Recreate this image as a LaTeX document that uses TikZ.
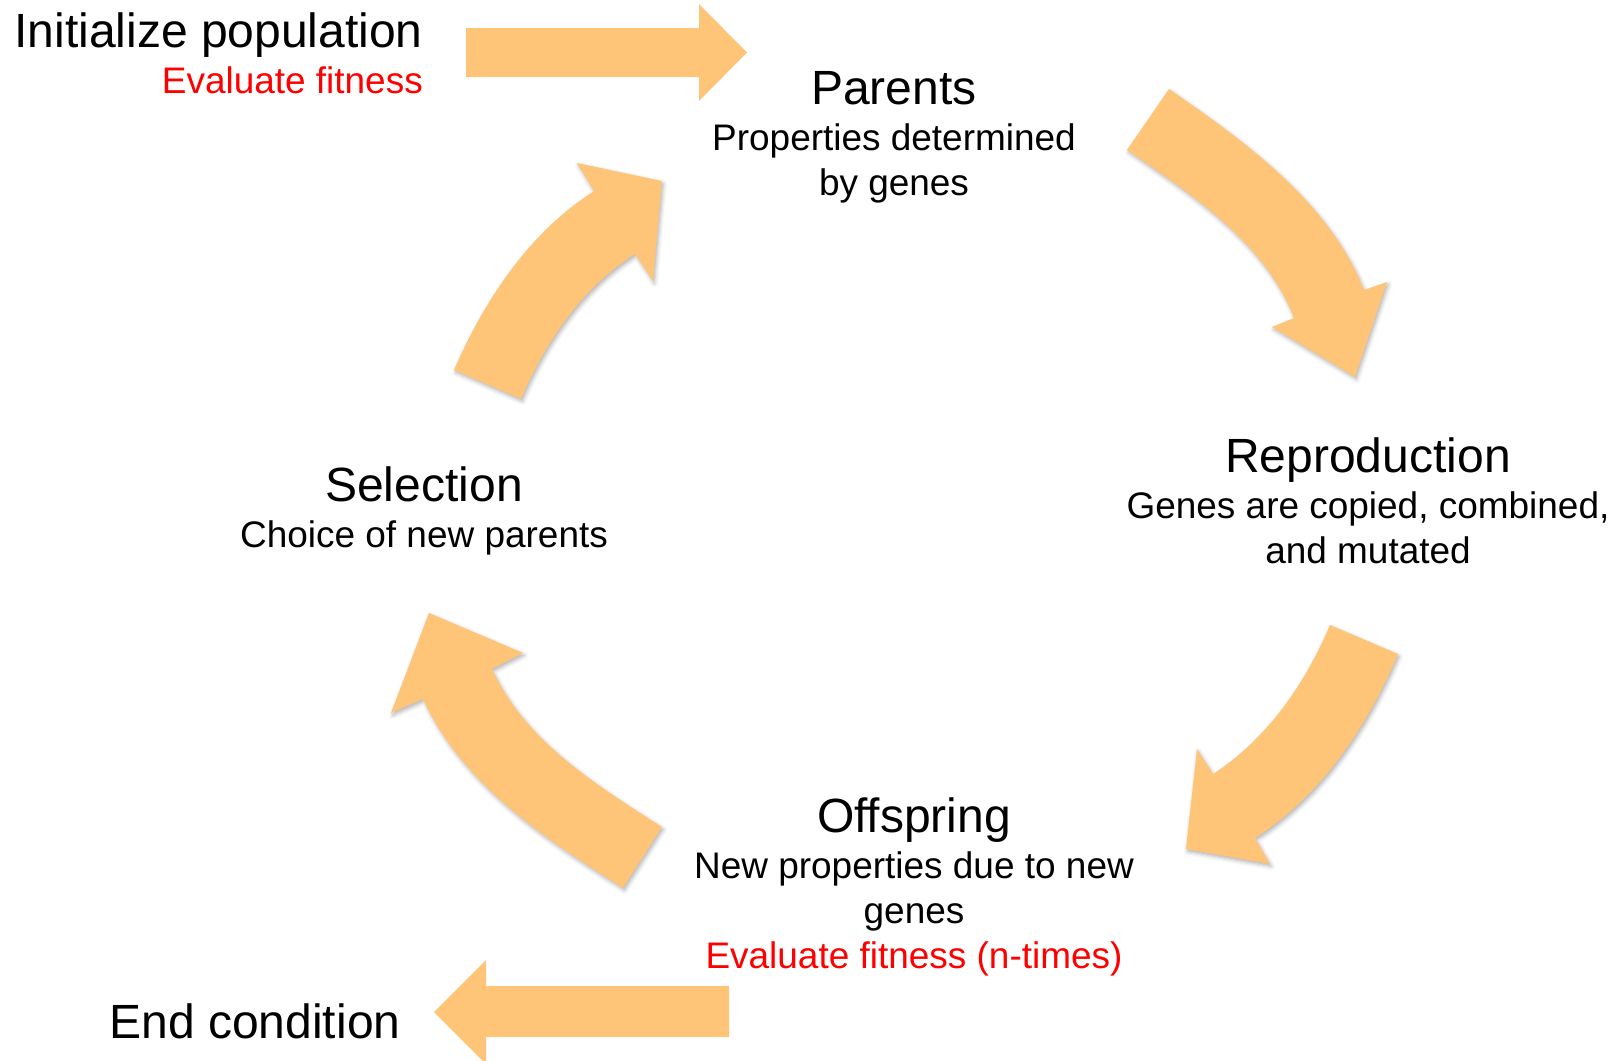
\documentclass[tikz,border=0pt]{standalone}
\usepackage{fontspec}
\setmainfont{Liberation Sans}
\usetikzlibrary{shadows.blur}
\definecolor{arrowfill}{RGB}{254,197,120}
\definecolor{evalred}{RGB}{255,0,0}
\tikzset{
  bigtext/.style={font=\fontsize{48.2}{58}\selectfont, inner sep=0pt, anchor=base},
  smalltext/.style={font=\fontsize{37.1}{45}\selectfont, inner sep=0pt, anchor=base},
  redtext/.style={smalltext, text=evalred},
  flatarrow/.style={fill=arrowfill, draw=none},
  bentarrow/.style={fill=arrowfill, draw=none,
    blur shadow={shadow xshift=1.5bp, shadow yshift=-2.5bp,
                 shadow blur radius=4bp, shadow opacity=30}},
}
\begin{document}
\begin{tikzpicture}[x=1bp,y=-1bp]
\useasboundingbox (0,0) rectangle (1619,1060);

% ---- stage labels ----
\node[bigtext, anchor=base east] (init) at (423,47) {Initialize population};
\node[redtext, anchor=base east] (initeval) at (423,93) {Evaluate fitness};

\node[bigtext] (parents) at (894,104) {Parents};
\node[smalltext] (parentsA) at (894,150) {Properties determined};
\node[smalltext] (parentsB) at (894,195) {by genes};

\node[bigtext] (repro) at (1368,472) {Reproduction};
\node[smalltext] (reproA) at (1368,518) {Genes are copied, combined,};
\node[smalltext] (reproB) at (1368,563) {and mutated};

\node[bigtext] (offspring) at (914,832) {Offspring};
\node[smalltext] (offA) at (914,878) {New properties due to new};
\node[smalltext] (offB) at (914,923) {genes};
\node[redtext] (offeval) at (914,968) {Evaluate fitness (n-times)};

\node[bigtext] (selection) at (424,501) {Selection};
\node[smalltext] (selA) at (424,547) {Choice of new parents};

\node[bigtext] (endc) at (255,1038) {End condition};

% ---- straight block arrows ----
\fill[flatarrow] (466,28) -- (699,28) -- (699,4) -- (747,52.5) -- (699,101)
  -- (699,77) -- (466,77) -- cycle;
\fill[flatarrow] (729,986) -- (486,986) -- (486,960) -- (434,1012) -- (486,1064)
  -- (486,1037) -- (729,1037) -- cycle;

% ---- curved block arrows of the cycle ----
% Parents -> Reproduction
\fill[bentarrow] (1169,89) .. controls (1247,143) and (1329,202) .. (1364,290)
  -- (1387,282) -- (1355,377) -- (1272,327) -- (1294,318)
  .. controls (1265,243) and (1194,196) .. (1127,150) -- cycle;
% Reproduction -> Offspring
\fill[bentarrow] (1398,654) .. controls (1367,727) and (1322,795) .. (1255,838)
  -- (1270,864) -- (1186,849) -- (1197,749) -- (1213,774)
  .. controls (1267,739) and (1305,684) .. (1330,625) -- cycle;
% Offspring -> Selection
\fill[bentarrow] (662,827) .. controls (595,784) and (525,741) .. (492,669)
  -- (523,653) -- (429,613) -- (391,713) -- (423,699)
  .. controls (462,784) and (544,838) .. (623,888) -- cycle;
% Selection -> Parents
\fill[bentarrow] (454,370) .. controls (485,299) and (529,233) .. (594,191)
  -- (577,163) -- (662,181) -- (653,281) -- (635,254)
  .. controls (582,288) and (546,341) .. (521,399) -- cycle;
\end{tikzpicture}
\end{document}
